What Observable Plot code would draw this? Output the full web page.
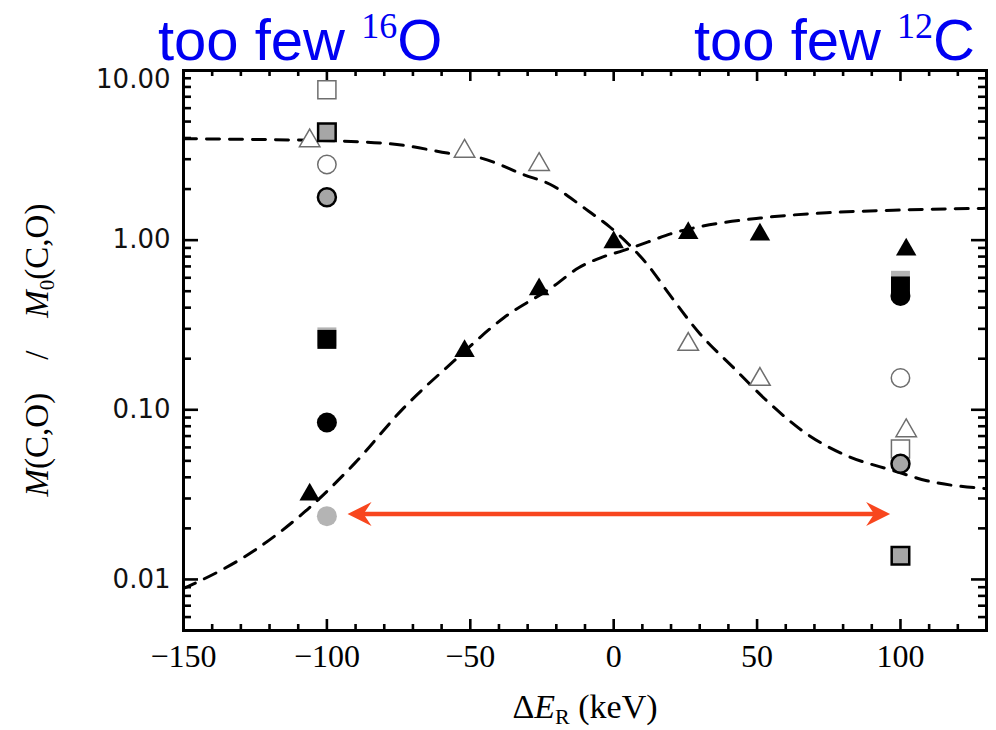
<!DOCTYPE html>
<html>
<head>
<meta charset="utf-8">
<script src="https://cdn.jsdelivr.net/npm/d3@7"></script>
<script src="https://cdn.jsdelivr.net/npm/@observablehq/plot@0.6"></script>
<style>
  html, body { margin: 0; padding: 0; background: #fff; }
  #wrap { position: relative; width: 996px; height: 730px; overflow: hidden; }
  .head { position: absolute; top: 10px; color: #0000f2; font-family: "Liberation Sans", Arial, sans-serif;
          font-size: 58px; line-height: 60px; white-space: nowrap; }
  .head sup { font-family: "Liberation Serif", serif; font-size: 36px; vertical-align: 22px; line-height: 0; }
  #ylab { position: absolute; left: 37px; top: 350px; transform: translate(-50%, -50%) rotate(-90deg);
          font-family: "Liberation Serif", serif; font-size: 33px; white-space: nowrap; color: #000; }
  #ylab sub { font-size: 21px; vertical-align: -6px; line-height: 0; }
  #xlab sub { font-size: 22px; vertical-align: -6px; line-height: 0; }
  #xlab { position: absolute; left: 585px; top: 707px; transform: translate(-50%, -50%);
          font-family: "Liberation Serif", serif; font-size: 34px; line-height: 36px; white-space: nowrap; color: #000; }
</style>
</head>
<body>
<div id="wrap">
  <div id="chart"></div>
  <div class="head" style="left:158px">too few <sup>16</sup>O</div>
  <div class="head" style="right:21px">too few <sup>12</sup>C</div>
  <div id="ylab"><i>M</i>(C,O)&emsp;/&emsp;<i>M</i><sub>0</sub>(C,O)</div>
  <div id="xlab">Δ<i>E</i><sub>R</sub> (keV)</div>
</div>
<script>
// Axis extents and tick labels
const xDomain = [-150, 130];
const yDomain = [0.005, 10];
const xTickValues = [-150, -100, -50, 0, 50, 100];
const xTickLabels = ["\u2212150", "\u2212100", "\u221250", "0", "50", "100"];
const yTickValues = [0.01, 0.1, 1, 10];
const yTickLabels = ["0.01", "0.10", "1.00", "10.00"];

// Dashed fit curves (ΔE_R in keV, ratio)
const fallX = [-150, -119.5, -91.6, -73.1, -58, -46.4, -31.3, -20.9, -15, -8.7, -1.7, 5.3, 11.7, 14, 18.6, 30.2, 41.8, 53.4, 67.4, 81.3, 97.5, 109.2, 129.8];
const fallY = [3.96, 3.91, 3.82, 3.62, 3.26, 3.05, 2.43, 2.08, 1.77, 1.48, 1.21, 0.943, 0.72, 0.642, 0.501, 0.279, 0.177, 0.113, 0.0719, 0.0536, 0.0438, 0.0382, 0.0343];
const riseX = [-150, -143.9, -125.3, -107.9, -90.5, -73.1, -55.7, -38.3, -20.9, -12.2, -4.6, 3.5, 12.8, 19.8, 27.9, 51.1, 74.3, 97.5, 129.9];
const riseY = [0.00885, 0.00987, 0.0148, 0.0249, 0.048, 0.103, 0.194, 0.349, 0.536, 0.687, 0.787, 0.87, 0.987, 1.089, 1.18, 1.35, 1.45, 1.5, 1.54];

// Triangles
const openTriX = [-106, -52, -26, 26, 51, 102];
const openTriY = [3.85, 3.34, 2.79, 0.243, 0.151, 0.0752];
const fillTriX = [-106, -52, -26, 0, 26, 51, 102];
const fillTriY = [0.0316, 0.222, 0.513, 0.97, 1.10, 1.08, 0.88];

// Squares and circles at ΔE_R = −100 and +100 keV
const sideX = [-100, 100];
const sqLight = [0.269, 0.58];
const sqOpen = [7.7, 0.0587];
const sqGray = [4.32, 0.0138];
const sqBlack = [0.26, 0.537];
const ciOpen = [2.79, 0.154];
const ciGray = [1.79, 0.048];
const ciBlack = [0.0842, 0.469];
const ciLightX = [-100];
const ciLight = [0.0236];

// Double-headed arrow
const arrowFrom = -92.8;
const arrowTo = 96.4;
const arrowLevel = 0.0243;

const pts = (xs, ys) => ys.map((y, i) => ({x: xs[i], y}));
const xMinor = d3.range(-150, 131, 10).filter(d => d % 50 !== 0);
const yMinor = [];
for (const e of [-3, -2, -1, 0]) for (let m = 2; m <= 9; m++) {
  const v = m * Math.pow(10, e);
  if (v >= yDomain[0] && v <= yDomain[1]) yMinor.push(v);
}

// plot geometry
const W = 996, H = 730, mL = 183, mR = 10, mT = 70, mB = 100;
const frameW = W - mL - mR, frameH = H - mT - mB;

// notched arrowheads with the tip at the origin
const headLeft = {draw(ctx) { ctx.moveTo(0, 0); ctx.lineTo(24, -12); ctx.lineTo(16, 0); ctx.lineTo(24, 12); ctx.closePath(); }};
const headRight = {draw(ctx) { ctx.moveTo(0, 0); ctx.lineTo(-24, -12); ctx.lineTo(-16, 0); ctx.lineTo(-24, 12); ctx.closePath(); }};

const arrowColor = "#f8461e";
const grayEdge = "#a6a6a6";
const openStroke = "#6e6e6e";
const tk = {stroke: "black", strokeWidth: 2.6};

// inward ticks: full-span ticks trimmed by insets down to the wanted length
const xTicksAt = (vals, len) => [
  Plot.tickX(vals, {...tk, x: d => d, insetTop: frameH - len}),
  Plot.tickX(vals, {...tk, x: d => d, insetBottom: frameH - len})
];
const yTicksAt = (vals, len) => [
  Plot.tickY(vals, {...tk, y: d => d, insetRight: frameW - len}),
  Plot.tickY(vals, {...tk, y: d => d, insetLeft: frameW - len})
];

const chart = Plot.plot({
  width: W,
  height: H,
  marginLeft: mL,
  marginRight: mR,
  marginTop: mT,
  marginBottom: mB,
  style: {background: "white", overflow: "visible"},
  x: {domain: xDomain, axis: null},
  y: {type: "log", domain: yDomain, axis: null},
  marks: [
    // inward ticks on all four sides
    ...xTicksAt(xTickValues, 11),
    ...xTicksAt(xMinor, 6),
    ...yTicksAt(yTickValues, 15),
    ...yTicksAt(yMinor, 8),

    // fit curves
    Plot.line(pts(fallX, fallY), {x: "x", y: "y", curve: "monotone-x", stroke: "black", strokeWidth: 3, strokeDasharray: "13,10"}),
    Plot.line(pts(riseX, riseY), {x: "x", y: "y", curve: "monotone-x", stroke: "black", strokeWidth: 3, strokeDasharray: "13,10"}),

    // arrow between the two extremes
    Plot.ruleY([arrowLevel], {x1: arrowFrom, x2: arrowTo, stroke: arrowColor, strokeWidth: 4.5, insetLeft: 14, insetRight: 14}),
    Plot.dot([arrowFrom], {x: d => d, y: () => arrowLevel, symbol: headLeft, fill: arrowColor, stroke: "none"}),
    Plot.dot([arrowTo], {x: d => d, y: () => arrowLevel, symbol: headRight, fill: arrowColor, stroke: "none"}),

    // triangles
    Plot.dot(pts(openTriX, openTriY), {x: "x", y: "y", symbol: "triangle", r: 7.6, fill: "white", stroke: openStroke, strokeWidth: 1.5}),
    Plot.dot(pts(fillTriX, fillTriY), {x: "x", y: "y", symbol: "triangle", r: 7.6, fill: "black", stroke: "none"}),

    // squares
    Plot.dot(pts(sideX, sqLight), {x: "x", y: "y", symbol: "square", r: 10.7, fill: "#b4b4b4", stroke: "none"}),
    Plot.dot(pts(sideX, sqOpen), {x: "x", y: "y", symbol: "square", r: 10.2, fill: "white", stroke: openStroke, strokeWidth: 1.5}),
    Plot.dot(pts(sideX, sqGray), {x: "x", y: "y", symbol: "square", r: 9.9, fill: grayEdge, stroke: "black", strokeWidth: 2.5}),
    Plot.dot(pts(sideX, sqBlack), {x: "x", y: "y", symbol: "square", r: 10.7, fill: "black", stroke: "none"}),

    // circles
    Plot.dot(pts(sideX, ciOpen), {x: "x", y: "y", r: 9.2, fill: "white", stroke: openStroke, strokeWidth: 1.5}),
    Plot.dot(pts(sideX, ciGray), {x: "x", y: "y", r: 9, fill: grayEdge, stroke: "black", strokeWidth: 2.5}),
    Plot.dot(pts(sideX, ciBlack), {x: "x", y: "y", r: 10, fill: "black", stroke: "none"}),
    Plot.dot(pts(ciLightX, ciLight), {x: "x", y: "y", r: 10, fill: "#b4b4b4", stroke: "none"}),

    Plot.frame({stroke: "black", strokeWidth: 3}),

    // tick labels
    Plot.text(xTickValues, {x: d => d, frameAnchor: "bottom", text: (d, i) => xTickLabels[i], dy: 36,
      fontFamily: "Liberation Serif, serif", fontSize: 32, fill: "black"}),
    Plot.text(yTickValues.slice(0, 3), {y: d => d, frameAnchor: "left", text: (d, i) => yTickLabels[i], dx: -13, textAnchor: "end",
      fontFamily: "DejaVu Sans, sans-serif", fontSize: 26, letterSpacing: "2px", fill: "#111"}),
    Plot.text(yTickValues.slice(3), {y: d => d, frameAnchor: "left", text: (d, i) => yTickLabels[i + 3], dx: -13, dy: 9, textAnchor: "end",
      fontFamily: "DejaVu Sans, sans-serif", fontSize: 26, letterSpacing: "2px", fill: "#111"})
  ]
});
document.getElementById("chart").appendChild(chart);
</script>
</body>
</html>
